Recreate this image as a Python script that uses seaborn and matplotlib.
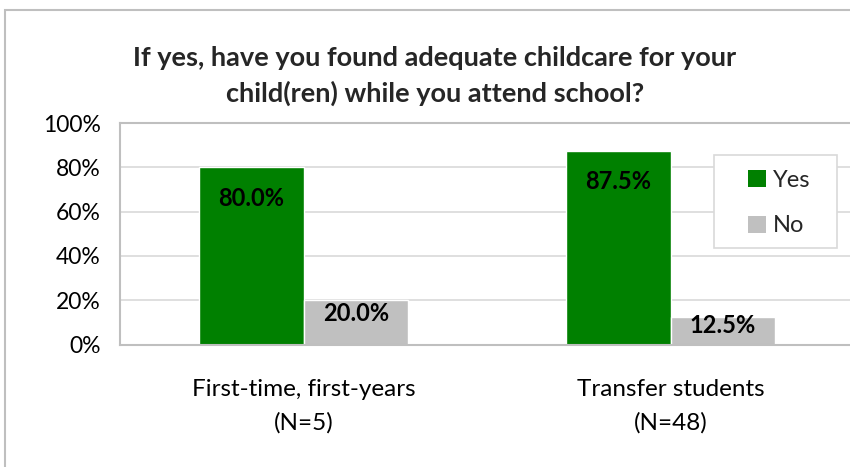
import matplotlib
matplotlib.use("Agg")
import matplotlib.pyplot as plt
import seaborn as sns
import pandas as pd
from matplotlib.patches import Rectangle, Patch
from matplotlib.ticker import FuncFormatter

categories = ["First-time, first-years\n(N=5)", "Transfer students\n(N=48)"]
responses = ["Yes", "No"]
yes_values = [80.0, 87.5]
no_values = [20.0, 12.5]
title = "If yes, have you found adequate childcare for your\nchild(ren) while you attend school?"
colors = ["#008000", "#C0C0C0"]

df = pd.DataFrame({
    "group": categories * 2,
    "resp": ["Yes"] * 2 + ["No"] * 2,
    "value": yes_values + no_values,
})

sns.set_theme(style="white")
plt.rcParams["font.family"] = ["Lato", "DejaVu Sans"]

W, H = 850, 467
fig = plt.figure(figsize=(W / 100, H / 100), dpi=100)
fig.patch.set_facecolor("white")

# outer chart border
fig.add_artist(Rectangle((5 / W, -0.1), 1.2, 1 - 10 / H + 0.1, transform=fig.transFigure,
                         fill=False, edgecolor="#BFBFBF", linewidth=1.5))

ax = fig.add_axes([120 / W, 1 - 344.5 / H, 734 / W, 221.5 / H])
sns.barplot(data=df, x="group", y="value", hue="resp", hue_order=responses,
            palette=colors, width=0.572, ax=ax, saturation=1, legend=False)

ax.set_ylim(0, 100)
ax.set_xlim(-0.5, 1.5)
ax.set_yticks([0, 20, 40, 60, 80, 100])
ax.yaxis.set_major_formatter(FuncFormatter(lambda v, p: f"{int(v)}%"))
ax.yaxis.grid(True, color="#D9D9D9", linewidth=1.2)
ax.set_axisbelow(True)
for s in ax.spines.values():
    s.set_visible(True)
    s.set_color("#BFBFBF")
    s.set_linewidth(1.5)
ax.set_xlabel("")
ax.set_ylabel("")
ax.tick_params(axis="y", labelsize=16.5, pad=14, length=0, colors="black")
ax.tick_params(axis="x", labelsize=17.5, pad=25, length=0, colors="black")
for lab in ax.get_xticklabels():
    lab.set_linespacing(1.68)

# bar labels
for cont, vals in zip(ax.containers, [yes_values, no_values]):
    for bar, v in zip(cont, vals):
        y = v - 14 if v >= 50 else v * 0.7
        ax.text(bar.get_x() + bar.get_width() / 2, y, f"{v:.1f}%",
                ha="center", va="center", fontsize=17, fontweight="bold", color="black")

# legend frame
fig.add_artist(Rectangle((714 / W, 1 - 248 / H), 123 / W, 93 / H, transform=fig.transFigure,
                         facecolor="white", edgecolor="#D9D9D9", linewidth=1.2, zorder=4))
handles = [Patch(facecolor=c, edgecolor="none") for c in colors]
leg = fig.legend(handles, responses, loc="center left",
                 bbox_to_anchor=(748 / W, 1 - 203 / H),
                 frameon=False, fontsize=17, handlelength=0.75, handleheight=0.75,
                 handletextpad=0.3, labelspacing=1.05, borderpad=0, borderaxespad=0)
leg.set_zorder(5)

fig.text(435 / W, 1 - 76 / H, title, ha="center", va="center", fontsize=19.5,
         fontweight="bold", linespacing=1.55)

fig.savefig("out.png", dpi=100)
